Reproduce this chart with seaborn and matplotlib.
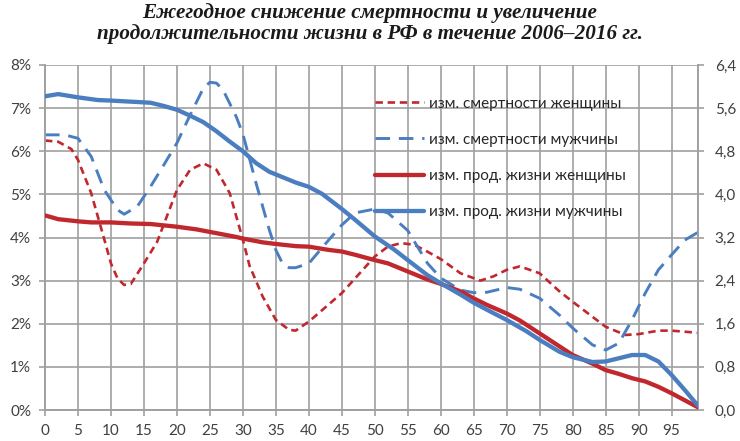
import seaborn as sns
import matplotlib.pyplot as plt
from matplotlib.lines import Line2D

# Age (x) and values
# dashed series: annual decline in mortality, % (left axis)
women_mort_age = [0, 2, 4, 5, 7, 9, 10, 11, 12, 13, 15, 17, 20, 22, 24, 26, 28, 30, 31, 33,
                  35, 37, 38, 40, 45, 50, 52, 54, 56, 58, 60, 63, 66, 68, 70, 72, 75, 78,
                  80, 85, 88, 90, 93, 95, 99]
women_mort = [6.25, 6.22, 6.05, 5.80, 5.03, 3.95, 3.40, 3.05, 2.90, 2.92, 3.40, 3.90, 5.10,
              5.57, 5.72, 5.57, 5.03, 3.95, 3.35, 2.63, 2.09, 1.86, 1.84, 2.05, 2.71, 3.56,
              3.79, 3.87, 3.83, 3.67, 3.50, 3.17, 3.00, 3.10, 3.25, 3.33, 3.17, 2.75, 2.51,
              1.93, 1.74, 1.76, 1.84, 1.84, 1.79]

men_mort_age = [0, 3, 5, 7, 9, 11, 12, 14, 16, 18, 20, 22, 24, 25, 26, 27, 29, 30, 32, 34,
                35, 36, 37, 38, 40, 43, 45, 47, 50, 52, 55, 58, 60, 63, 65, 67, 70, 72, 75,
                78, 80, 83, 85, 87, 89, 91, 93, 95, 97, 99]
men_mort = [6.38, 6.38, 6.30, 5.88, 5.10, 4.64, 4.54, 4.72, 5.18, 5.68, 6.19, 6.84, 7.46,
            7.60, 7.58, 7.42, 6.80, 6.40, 5.26, 4.18, 3.71, 3.40, 3.30, 3.30, 3.40, 3.94,
            4.29, 4.57, 4.66, 4.57, 4.16, 3.40, 3.06, 2.78, 2.72, 2.73, 2.84, 2.80, 2.59,
            2.20, 1.90, 1.51, 1.39, 1.55, 2.09, 2.71, 3.25, 3.60, 3.94, 4.12]

# solid series: increase in life expectancy (right axis)
women_le_age = [0, 2, 5, 7, 10, 13, 16, 20, 23, 26, 29, 30, 33, 35, 38, 40, 43, 45, 47, 50,
                52, 55, 58, 60, 63, 65, 67, 70, 72, 75, 78, 80, 83, 85, 87, 89, 91, 93, 95,
                97, 99]
women_le = [3.61, 3.54, 3.50, 3.48, 3.48, 3.46, 3.45, 3.40, 3.35, 3.28, 3.21, 3.18, 3.11,
            3.08, 3.04, 3.03, 2.97, 2.94, 2.88, 2.78, 2.72, 2.57, 2.42, 2.34, 2.20, 2.07,
            1.95, 1.79, 1.66, 1.42, 1.18, 1.02, 0.86, 0.74, 0.67, 0.59, 0.53, 0.43, 0.31,
            0.18, 0.05]

men_le_age = [0, 2, 5, 8, 10, 13, 16, 18, 20, 22, 24, 26, 28, 30, 32, 34, 36, 38, 40, 42,
              45, 47, 50, 53, 55, 58, 60, 63, 65, 67, 70, 73, 75, 78, 80, 83, 85, 87, 89,
              91, 93, 95, 97, 99]
men_le = [5.82, 5.86, 5.80, 5.75, 5.74, 5.72, 5.70, 5.64, 5.57, 5.46, 5.34, 5.17, 4.98,
          4.80, 4.58, 4.42, 4.32, 4.22, 4.14, 4.01, 3.73, 3.53, 3.22, 2.97, 2.78, 2.50,
          2.35, 2.14, 1.99, 1.86, 1.67, 1.46, 1.30, 1.08, 0.98, 0.89, 0.90, 0.96, 1.02,
          1.02, 0.90, 0.65, 0.37, 0.08]

labels = ["изм. смертности женщины", "изм. смертности мужчины",
          "изм. прод. жизни женщины", "изм. прод. жизни мужчины"]
left_ticks = [0, 1, 2, 3, 4, 5, 6, 7, 8]
right_ticks = [0.0, 0.8, 1.6, 2.4, 3.2, 4.0, 4.8, 5.6, 6.4]
x_ticks = list(range(0, 100, 5))

RED = "#C0282E"
BLUE = "#4A7EC0"
GRID = "#A0A0A0"

sns.set_theme(style="whitegrid")
plt.rcParams['font.family'] = ['Lato', 'Open Sans', 'DejaVu Sans']

fig = plt.figure(figsize=(7.4, 4.41), dpi=100)
ax = fig.add_axes([45 / 740, 1 - 410 / 441, 653 / 740, 345 / 441])
ax2 = ax.twinx()

red_dash = (0, (2.8, 1.8))
blue_dash = (0, (5, 3))

sns.lineplot(x=women_mort_age, y=women_mort, ax=ax, color=RED, linewidth=1.9,
             linestyle=red_dash, zorder=3)
sns.lineplot(x=men_mort_age, y=men_mort, ax=ax, color=BLUE, linewidth=2.1,
             linestyle=blue_dash, zorder=3)
sns.lineplot(x=women_le_age, y=women_le, ax=ax2, color=RED, linewidth=3.1, zorder=4)
sns.lineplot(x=men_le_age, y=men_le, ax=ax2, color=BLUE, linewidth=3.1, zorder=4)

for a in (ax, ax2):
    a.set_xlim(0, 99)
    a.set_xlabel("")
    a.set_ylabel("")
    for s in a.spines.values():
        s.set_color(GRID)
        s.set_linewidth(1.2)
    a.spines["top"].set_visible(False)

ax.set_ylim(0, 8)
ax.set_yticks(left_ticks)
ax.set_yticklabels([f"{t}%" for t in left_ticks])
ax.set_xticks(x_ticks)
ax.set_xticklabels([str(t) for t in x_ticks])
ax.grid(True, color=GRID, linewidth=1.2)
ax.tick_params(axis="both", colors="#404040", labelsize=11, length=4, width=1.2,
               direction="out", pad=6, left=True, bottom=True)
ax.tick_params(axis="both", color=GRID)

ax2.set_ylim(0, 6.4)
ax2.set_yticks(right_ticks)
ax2.set_yticklabels([f"{t:.1f}".replace(".", ",") for t in right_ticks])
ax2.grid(False)
ax2.tick_params(axis="y", labelcolor="#404040", color=GRID, labelsize=11, length=4,
                width=1.2, pad=8, right=True)

handles = [Line2D([], [], color=RED, linewidth=1.9, linestyle=red_dash),
           Line2D([], [], color=BLUE, linewidth=2.1, linestyle=blue_dash),
           Line2D([], [], color=RED, linewidth=3.1),
           Line2D([], [], color=BLUE, linewidth=3.1)]
ax2.legend(handles, labels, loc="upper left", bbox_to_anchor=(367 / 740, 1 - 89 / 441),
           bbox_transform=fig.transFigure, frameon=False, fontsize=11, borderpad=0,
           handlelength=3.2, handletextpad=0.35, labelspacing=1.45, labelcolor="#262626")

fig.text(0.5, 1 - 3 / 441,
         "Ежегодное снижение смертности и увеличение\n"
         "продолжительности жизни в РФ в течение 2006–2016 гг.",
         ha="center", va="top", fontsize=15.2, fontweight="bold", fontstyle="italic",
         family=["Liberation Serif", "DejaVu Serif"], linespacing=1.1, color="#1a1a1a")

plt.savefig("out.png", dpi=100)
